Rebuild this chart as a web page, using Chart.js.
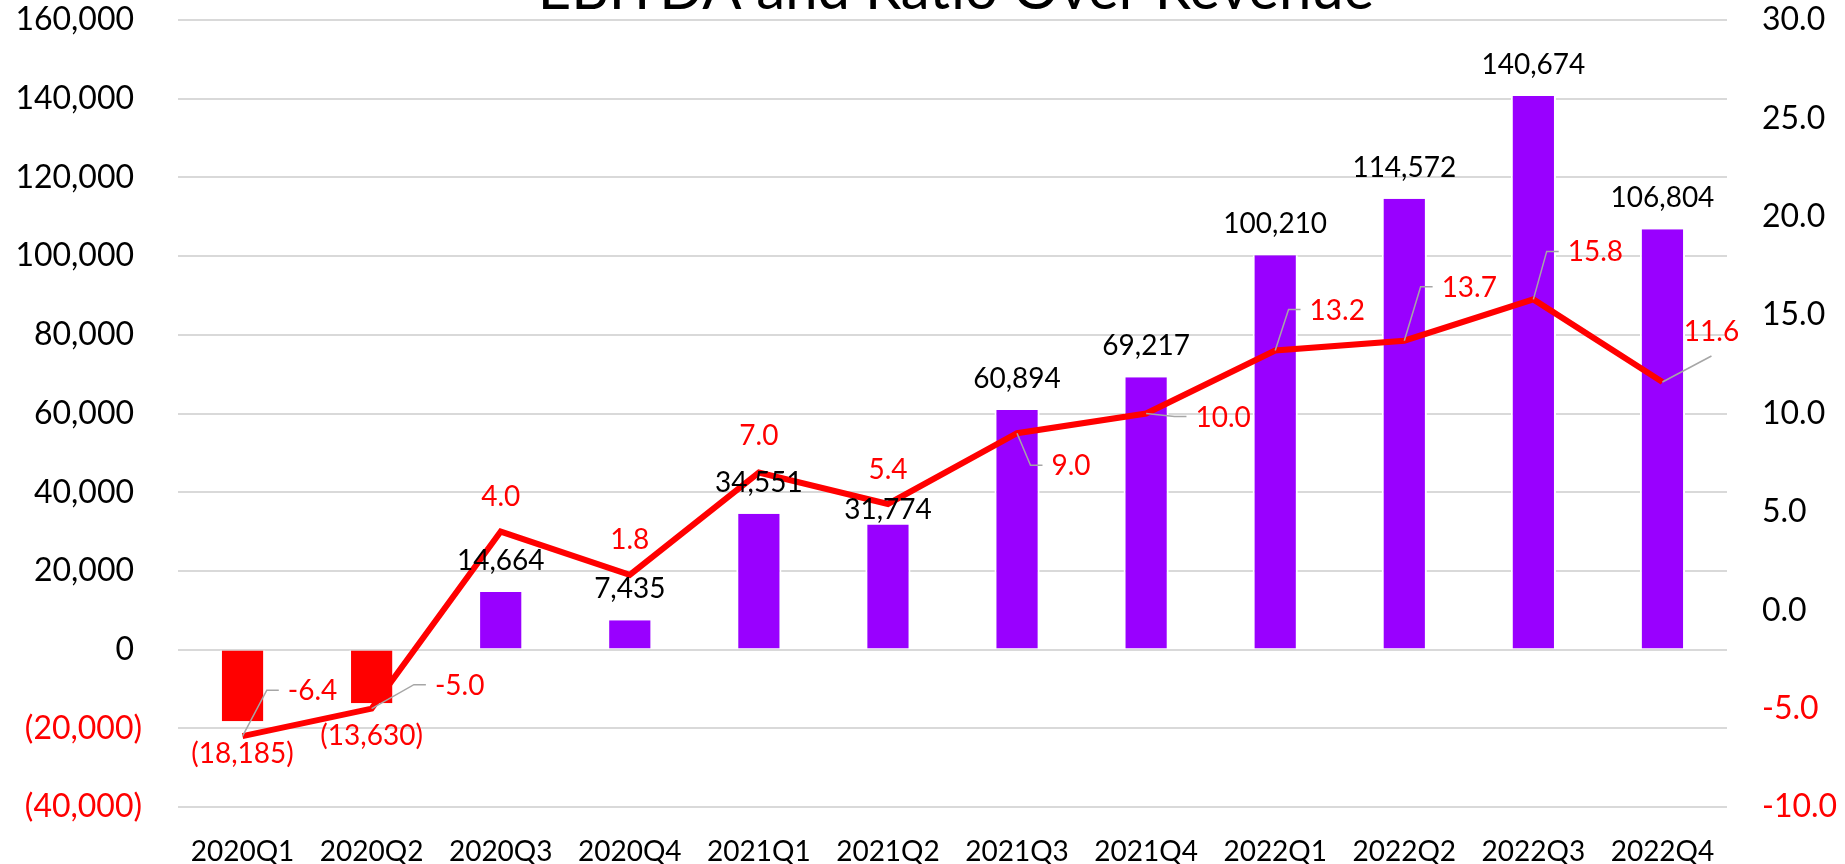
<!DOCTYPE html>
<html>
<head>
<meta charset="utf-8">
<title>EBITDA and Ratio Over Revenue</title>
<script src="https://cdn.jsdelivr.net/npm/chart.js@4.4.1/dist/chart.umd.min.js"></script>
<style>
  html, body { margin: 0; padding: 0; background: #fff; }
  #wrap { position: relative; width: 1845px; height: 864px; }
</style>
</head>
<body>
<div id="wrap"><canvas id="chart"></canvas></div>
<script>
const quarters = ['2020Q1', '2020Q2', '2020Q3', '2020Q4', '2021Q1', '2021Q2',
                  '2021Q3', '2021Q4', '2022Q1', '2022Q2', '2022Q3', '2022Q4'];
const ebitda = [-18185, -13630, 14664, 7435, 34551, 31774, 60894, 69217, 100210, 114572, 140674, 106804];
const ratio = [-6.4, -5.0, 4.0, 1.8, 7.0, 5.4, 9.0, 10.0, 13.2, 13.7, 15.8, 11.6];

const leftMin = -40000, leftMax = 160000, leftStep = 20000;
const rightMin = -10, rightMax = 30, rightStep = 5;

const RED = '#ff0000';
const PURPLE = '#9900ff';

// label placement tweaks (px), same as the hand-moved labels in the original
const barLabelNudge = [0, 0, 0, 0, 0, 16, 0, 0, 0, 0, 0, 0];
const ratioLabelPlace = [
  { dx: 70, dy: -45, leader: 'side' },
  { dx: 88, dy: -23, leader: 'side' },
  { dx: 0, dy: -35 },
  { dx: 0, dy: -35 },
  { dx: 0, dy: -37 },
  { dx: 0, dy: -34 },
  { dx: 54, dy: 33, leader: 'side' },
  { dx: 77, dy: 4, leader: 'side' },
  { dx: 62, dy: -40, leader: 'side' },
  { dx: 65, dy: -53, leader: 'side' },
  { dx: 62, dy: -47, leader: 'side' },
  { dx: 49, dy: -50, leader: 'below' },
];

function fmtThousands(v) {
  const s = Math.abs(v).toLocaleString('en-US');
  return v < 0 ? `(${s})` : s;
}

const negColor = c => (c.tick && c.tick.value < 0) ? RED : '#000000';

// fixed box sizes so the plot area lands where the original one is
function fixBox(w) {
  return s => {
    s.width = w;
    s.paddingTop = 0;
    s.paddingBottom = 0;
  };
}

const titlePlugin = {
  id: 'cutTitle',
  afterDraw(chart) {
    const ctx = chart.ctx;
    ctx.save();
    ctx.font = '58px Lato';
    ctx.fillStyle = '#000000';
    ctx.textAlign = 'center';
    ctx.textBaseline = 'alphabetic';
    ctx.fillText('EBITDA and Ratio Over Revenue', 956, 9);
    ctx.restore();
  }
};

const labelPlugin = {
  id: 'valueLabels',
  afterDatasetsDraw(chart) {
    const ctx = chart.ctx;
    ctx.save();
    ctx.font = '28px Lato';
    ctx.textAlign = 'center';
    ctx.textBaseline = 'middle';

    chart.getDatasetMeta(0).data.forEach((bar, i) => {
      const v = ebitda[i];
      if (v < 0) {
        ctx.fillStyle = RED;
        ctx.fillText(fmtThousands(v), bar.x, bar.y + 33);
      } else {
        ctx.fillStyle = '#000000';
        ctx.fillText(fmtThousands(v), bar.x, bar.y - 31 + barLabelNudge[i]);
      }
    });

    chart.getDatasetMeta(1).data.forEach((p, i) => {
      const pl = ratioLabelPlace[i];
      const cx = p.x + pl.dx, cy = p.y + pl.dy;
      const txt = ratio[i].toFixed(1);
      const w = ctx.measureText(txt).width;
      if (pl.leader) {
        ctx.strokeStyle = '#a6a6a6';
        ctx.lineWidth = 1.5;
        ctx.beginPath();
        ctx.moveTo(p.x, p.y);
        if (pl.leader === 'side') {
          const left = cx - w / 2;
          ctx.lineTo(left - 21, cy - 1);
          ctx.lineTo(left - 9, cy - 1);
        } else {
          ctx.lineTo(cx, cy + 24);
        }
        ctx.stroke();
      }
      ctx.fillStyle = RED;
      ctx.fillText(txt, cx, cy);
    });
    ctx.restore();
  }
};

Chart.defaults.font.family = 'Lato, "Open Sans", sans-serif';
Chart.defaults.color = '#000000';

new Chart(document.getElementById('chart'), {
  type: 'bar',
  data: {
    labels: quarters,
    datasets: [
      {
        type: 'bar',
        label: 'EBITDA',
        data: ebitda,
        yAxisID: 'y',
        backgroundColor: c => ebitda[c.dataIndex] < 0 ? RED : PURPLE,
        borderColor: '#ffffff',
        borderWidth: { left: 2, right: 2, top: 0, bottom: 0 },
        barPercentage: 0.35,
        categoryPercentage: 1,
        order: 2,
      },
      {
        type: 'line',
        label: 'Ratio over revenue',
        data: ratio,
        yAxisID: 'y1',
        borderColor: RED,
        backgroundColor: RED,
        borderWidth: 6,
        pointRadius: 0,
        tension: 0,
        fill: false,
        order: 1,
      }
    ]
  },
  options: {
    responsive: true,
    maintainAspectRatio: false,
    animation: false,
    layout: { padding: { top: 20, left: 0, right: 0, bottom: 0 } },
    plugins: {
      legend: { display: false },
      tooltip: { enabled: false },
    },
    scales: {
      x: {
        grid: { display: false },
        border: { display: false },
        ticks: { font: { size: 28 }, color: '#000000', padding: 20, maxRotation: 0, autoSkip: false },
        afterFit: s => { s.height = 57; },
      },
      y: {
        position: 'left',
        min: leftMin,
        max: leftMax,
        ticks: {
          stepSize: leftStep,
          font: { size: 32 },
          padding: 36,
          color: negColor,
          callback: v => v < 0 ? fmtThousands(v) : fmtThousands(v) + '\u2005',
        },
        grid: { color: '#d9d9d9', lineWidth: 2, drawTicks: false },
        border: { display: false },
        afterFit: fixBox(178),
      },
      y1: {
        position: 'right',
        min: rightMin,
        max: rightMax,
        ticks: {
          stepSize: rightStep,
          font: { size: 32 },
          padding: 35,
          color: negColor,
          callback: v => Number(v).toFixed(1),
        },
        grid: { display: false, drawTicks: false },
        border: { display: false },
        afterFit: fixBox(118),
      }
    }
  },
  plugins: [labelPlugin, titlePlugin]
});
</script>
</body>
</html>
